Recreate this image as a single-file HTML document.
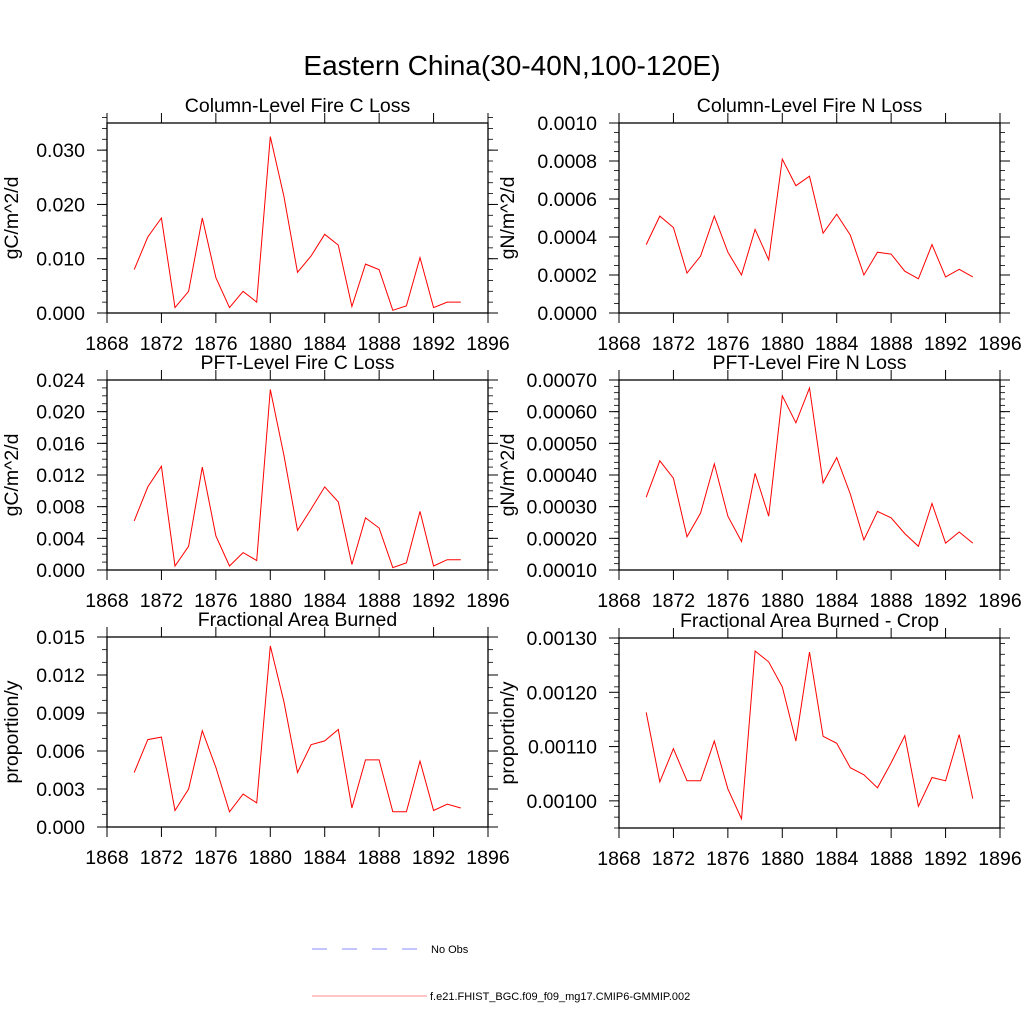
<!DOCTYPE html>
<html><head><meta charset="utf-8"><style>
html,body{margin:0;padding:0;background:#fff;}
svg{display:block;font-family:"Liberation Sans",sans-serif;}
</style></head><body>
<svg id="c" width="1024" height="1024" viewBox="0 0 1024 1024">
<text x="512" y="75" font-size="28" text-anchor="middle">Eastern China(30-40N,100-120E)</text>
<g>
<line x1="312" y1="949" x2="420" y2="949" stroke="#8888ff" stroke-width="1" stroke-dasharray="15,15"/>
<text x="431" y="953" font-size="11">No Obs</text>
<line x1="312" y1="996" x2="427" y2="996" stroke="#ff8888" stroke-width="1"/>
<text x="430" y="1000" font-size="11">f.e21.FHIST_BGC.f09_f09_mg17.CMIP6-GMMIP.002</text>
</g>
</svg>
<script>
const years=[1870,1871,1872,1873,1874,1875,1876,1877,1878,1879,1880,1881,1882,1883,1884,1885,1886,1887,1888,1889,1890,1891,1892,1893,1894];
const xTicks=[1868,1872,1876,1880,1884,1888,1892,1896];
const colC=[0.008,0.014,0.0175,0.001,0.004,0.0175,0.0065,0.001,0.004,0.002,0.0325,0.0215,0.0075,0.0105,0.0145,0.0125,0.0012,0.009,0.008,0.0005,0.0013,0.0102,0.001,0.002,0.002];
const colN=[0.00036,0.00051,0.00045,0.00021,0.0003,0.00051,0.00032,0.0002,0.00044,0.00028,0.00081,0.00067,0.00072,0.00042,0.00052,0.00041,0.0002,0.00032,0.00031,0.00022,0.00018,0.00036,0.00019,0.00023,0.00019];
const pftC=[0.0062,0.0105,0.0131,0.0005,0.003,0.013,0.0043,0.0005,0.0022,0.0012,0.0228,0.0145,0.005,0.0077,0.0105,0.0086,0.0007,0.0066,0.0053,0.0003,0.0009,0.0074,0.0005,0.0013,0.0013];
const pftN=[0.00033,0.000445,0.00039,0.000205,0.00028,0.000435,0.00027,0.00019,0.000405,0.00027,0.00065,0.000565,0.000675,0.000375,0.000455,0.00034,0.000195,0.000285,0.000265,0.000215,0.000175,0.00031,0.000185,0.00022,0.000185];
const area=[0.0043,0.0069,0.0071,0.0013,0.003,0.0076,0.0047,0.0012,0.0026,0.0019,0.0143,0.0099,0.0043,0.0065,0.0068,0.0077,0.0015,0.0053,0.0053,0.0012,0.0012,0.0052,0.0013,0.0018,0.0015];
const crop=[0.001163,0.001035,0.001096,0.001037,0.001037,0.00111,0.001022,0.000967,0.001276,0.001256,0.00121,0.00111,0.001274,0.001119,0.001106,0.001061,0.001048,0.001024,0.00107,0.00112,0.00099,0.001043,0.001037,0.001122,0.001004];
const yTicksColC=["0.000","0.010","0.020","0.030"];
const yTicksColN=["0.0000","0.0002","0.0004","0.0006","0.0008","0.0010"];
const yTicksPftC=["0.000","0.004","0.008","0.012","0.016","0.020","0.024"];
const yTicksPftN=["0.00010","0.00020","0.00030","0.00040","0.00050","0.00060","0.00070"];
const yTicksArea=["0.000","0.003","0.006","0.009","0.012","0.015"];
const yTicksCrop=["0.00100","0.00110","0.00120","0.00130"];

const panels=[
 {name:'column-fire-c',title:'Column-Level Fire C Loss',yl:'gC/m^2/d',data:colC,ticks:yTicksColC,ymin:0,ymax:0.035,minor:0.002,x0:107,top:123,yo:89},
 {name:'column-fire-n',title:'Column-Level Fire N Loss',yl:'gN/m^2/d',data:colN,ticks:yTicksColN,ymin:0,ymax:0.001,minor:0.00005,x0:619,top:123,yo:105},
 {name:'pft-fire-c',title:'PFT-Level Fire C Loss',yl:'gC/m^2/d',data:pftC,ticks:yTicksPftC,ymin:0,ymax:0.024,minor:0.001,x0:107,top:380,yo:89},
 {name:'pft-fire-n',title:'PFT-Level Fire N Loss',yl:'gN/m^2/d',data:pftN,ticks:yTicksPftN,ymin:0.0001,ymax:0.0007,minor:0.00002,x0:619,top:380,yo:105},
 {name:'area-burned',title:'Fractional Area Burned',yl:'proportion/y',data:area,ticks:yTicksArea,ymin:0,ymax:0.015,minor:0.001,x0:107,top:637,yo:89},
 {name:'area-burned-crop',title:'Fractional Area Burned - Crop',yl:'proportion/y',data:crop,ticks:yTicksCrop,ymin:0.00095,ymax:0.0013,minor:0.00002,x0:619,top:638,yo:105}
];
const W=381,H=190,NS='http://www.w3.org/2000/svg',FS=19.5;
const svg=document.getElementById('c');
function mk(t,a,p){const e=document.createElementNS(NS,t);for(const k in a)e.setAttribute(k,a[k]);(p||svg).appendChild(e);return e;}
panels.forEach(P=>{
 const g=mk('g',{});
 
 
 const L=P.x0,R=P.x0+W,T=P.top,B=P.top+H;
 const xs=v=>L+(v-1868)/(1896-1868)*W;
 const ys=v=>B-(v-P.ymin)/(P.ymax-P.ymin)*H;
 const fr=mk('rect',{x:L,y:T,width:W,height:H,fill:'none',stroke:'#000','stroke-width':1.3},g);
 
 
 const tt=mk('text',{x:(L+R)/2,y:T-11,'font-size':FS,'text-anchor':'middle'},g);tt.textContent=P.title;
 
 
 xTicks.forEach(v=>{const x=xs(v);
  mk('line',{x1:x,y1:B,x2:x,y2:B+10,stroke:'#000'},g);
  mk('line',{x1:x,y1:T,x2:x,y2:T-10,stroke:'#000'},g);
  const t=mk('text',{x:x,y:B+37,'font-size':FS,'text-anchor':'middle'},g);t.textContent=v;
  
  
 });
 const n=Math.round((P.ymax-P.ymin)/P.minor);
 for(let i=0;i<=n;i++){const y=ys(P.ymin+i*P.minor);
  mk('line',{x1:L,y1:y,x2:L-5,y2:y,stroke:'#000','stroke-width':0.8},g);
  mk('line',{x1:R,y1:y,x2:R+5,y2:y,stroke:'#000','stroke-width':0.8},g);}
 P.ticks.forEach(s=>{const y=ys(parseFloat(s));
  mk('line',{x1:L,y1:y,x2:L-10,y2:y,stroke:'#000'},g);
  mk('line',{x1:R,y1:y,x2:R+10,y2:y,stroke:'#000'},g);
  const t=mk('text',{x:L-22,y:y+7,'font-size':FS,'text-anchor':'end'},g);t.textContent=s;
  
  
 });
 const yt=mk('text',{x:0,y:0,'font-size':FS,'text-anchor':'middle',transform:`translate(${L-P.yo+7},${(T+B)/2}) rotate(-90)`},g);yt.textContent=P.yl;
 yt.setAttribute('transform',`translate(${L-P.yo},${(T+B)/2}) rotate(-90)`);
 
 
 const pts=P.data.map((v,i)=>xs(years[i]).toFixed(1)+','+ys(v).toFixed(1)).join(' ');
 const pl=mk('polyline',{points:pts,fill:'none',stroke:'#ff0000','stroke-width':1},g);
 
 
});
</script>
</body></html>
